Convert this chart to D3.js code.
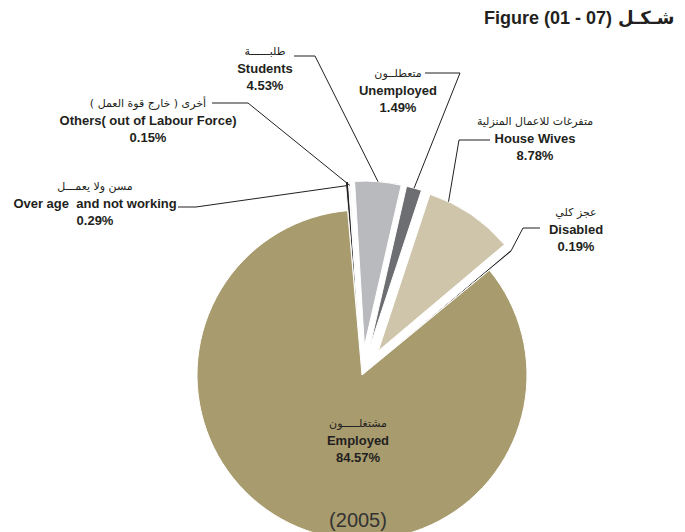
<!DOCTYPE html>
<html><head>
<meta charset="utf-8">
<script src="https://d3js.org/d3.v7.min.js"></script>
<style>
body { margin: 0; background: #fff; }
svg { display: block; }
.en { font-family: "Liberation Sans", Arial, sans-serif; font-weight: bold; font-size: 13px; fill: #231f20; white-space: pre; }
.ar { font-family: "DejaVu Sans", sans-serif; font-size: 11px; fill: #231f20; }
.lead { fill: none; stroke: #231f20; stroke-width: 1; }
</style>
</head><body>
<svg id="chart" width="685" height="532"></svg>
<script>
// slice order runs clockwise from just left of 12 o'clock
var categoriesEn = ["Over age  and not working", "Others( out of Labour Force)", "Students", "Unemployed", "House Wives", "Disabled", "Employed"];
var categoriesAr = ["مسن ولا يعمـــل", "أخرى ( خارج قوة العمل )", "طلبــــــة", "متعطلــون", "متفرغات للاعمال المنزلية", "عجز كلي", "مشتغلـــــون"];
var values = [0.29, 0.15, 4.53, 1.49, 8.78, 0.19, 84.57];
var colors = ["#231f20", "#e6e6e6", "#b9babd", "#6d6e71", "#cfc5ab", "#231f20", "#a89b6e"];

var cx = 362, cy = 375, radius = 165;
var explode = [29, 29, 29, 29, 29, 29, 0];

// label layout: [x, y of arabic line], elbow path start points, where along the slice the leader ends
var labelPos = [[95, 190], [148, 107], [265, 55], [398, 77], [535, 125], [576, 216], [358, 427]];
var leaderFrom = [[[178, 207], [196, 207]], [[212, 103], [248, 103]], [[294, 56], [315, 56]],
                  [[425, 73], [460, 73]], [[490, 140], [459, 140]], [[540, 228], [523, 228]], null];
var leaderAt = [0.5, 0.5, 0.5, 0.5, 0.22, 0.5, 0.5];

var svg = d3.select("#chart");

svg.append("text").attr("x", 612).attr("y", 24).attr("text-anchor", "end")
    .style("font-family", "Liberation Sans, Arial, sans-serif").style("font-weight", "bold")
    .style("font-size", "18px").attr("fill", "#231f20").text("Figure (01 - 07)");
svg.append("text").attr("x", 618).attr("y", 24)
    .style("font-family", "DejaVu Sans, sans-serif").style("font-weight", "bold")
    .style("font-size", "18px").attr("fill", "#231f20").text("شـكـل");

var start = -5 * Math.PI / 180;
var pie = d3.pie().sort(null).startAngle(start).endAngle(start + 2 * Math.PI);
var arcs = pie(values);
var arc = d3.arc().innerRadius(0).outerRadius(radius);

function offset(d, i) {
    var a = (d.startAngle + d.endAngle) / 2;
    return [cx + explode[i] * Math.sin(a), cy - explode[i] * Math.cos(a)];
}

svg.selectAll("path.slice").data(arcs).enter().append("path")
    .attr("class", "slice")
    .attr("transform", function(d, i) { var o = offset(d, i); return "translate(" + o[0] + "," + o[1] + ")"; })
    .attr("d", arc)
    .attr("fill", function(d, i) { return colors[i]; })
    .attr("stroke", "#fff").attr("stroke-width", 1);

// leader lines
arcs.forEach(function(d, i) {
    if (!leaderFrom[i]) return;
    var o = offset(d, i);
    var a = d.startAngle + (d.endAngle - d.startAngle) * leaderAt[i];
    var r = radius - (i < 2 ? 4 : 0);
    var end = [o[0] + r * Math.sin(a), o[1] - r * Math.cos(a)];
    var pts = leaderFrom[i].concat([end]);
    svg.append("path").attr("class", "lead").attr("d", d3.line()(pts));
});

// labels
arcs.forEach(function(d, i) {
    var p = labelPos[i];
    var g = svg.append("g");
    g.append("text").attr("class", "ar").attr("x", p[0]).attr("y", p[1])
        .attr("text-anchor", "middle").text(categoriesAr[i]);
    g.append("text").attr("class", "en").attr("x", p[0]).attr("y", p[1] + 18)
        .attr("text-anchor", "middle").text(categoriesEn[i]);
    g.append("text").attr("class", "en").attr("x", p[0]).attr("y", p[1] + 35)
        .attr("text-anchor", "middle").text(values[i].toFixed(2) + "%");
});

svg.append("text").attr("x", 358).attr("y", 527).attr("text-anchor", "middle")
    .style("font-family", "Liberation Sans, Arial, sans-serif").style("font-size", "20px")
    .attr("fill", "#333").text("(2005)");
</script>
</body></html>
